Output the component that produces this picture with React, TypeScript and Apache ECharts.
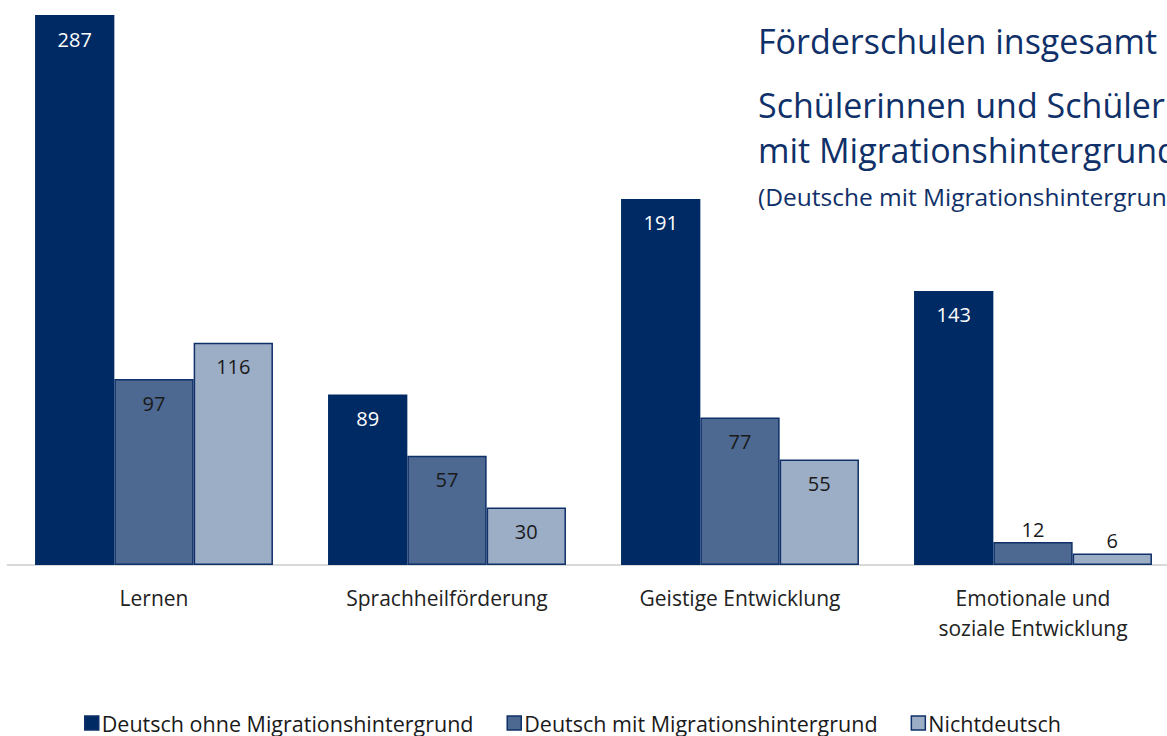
import React, { useEffect, useRef } from "react";
import * as echarts from "echarts";

const categories = ["Lernen", "Sprachheilförderung", "Geistige Entwicklung", "Emotionale und\nsoziale Entwicklung"];
const seriesNames = ["Deutsch ohne Migrationshintergrund", "Deutsch mit Migrationshintergrund", "Nichtdeutsch"];
const ohneMig = [287, 89, 191, 143];
const mitMig = [97, 57, 77, 12];
const nichtdeutsch = [116, 30, 55, 6];
const titleLine1 = "Förderschulen insgesamt";
const titleLine2 = "Schülerinnen und Schüler";
const titleLine3 = "mit Migrationshintergrund";
const titleLine4 = "(Deutsche mit Migrationshintergrund";

const FONT = "'Open Sans', 'Noto Sans', sans-serif";
const colors = ["#002a64", "#4d6891", "#9cadc6"];
const labelColors = ["#ffffff", "#1a1a1a", "#1a1a1a"];

export default function App() {
  const ref = useRef<HTMLDivElement>(null);
  useEffect(() => {
    if (!ref.current) return;
    const chart = echarts.init(ref.current, null, { renderer: "svg" });
    const dataSets = [ohneMig, mitMig, nichtdeutsch];
    const series = dataSets.map((arr, i) => ({
      name: seriesNames[i],
      type: "bar",
      barGap: "0%",
      barCategoryGap: "18.8%",
      itemStyle: { color: colors[i], borderColor: "#0f3068", borderWidth: i === 0 ? 0 : 1.5 },
      data: arr.map((v) => {
        const small = v < 20;
        return {
          value: v,
          label: small
            ? { position: "top", distance: 3, color: "#1a1a1a" }
            : undefined,
        };
      }),
      label: {
        show: true,
        position: "insideTop",
        distance: 14,
        color: labelColors[i],
        fontFamily: FONT,
        fontSize: 20,
      },
    }));
    chart.setOption({
      animation: false,
      grid: { left: 7.5, right: 0.5, top: 15, bottom: 171, containLabel: false },
      xAxis: {
        type: "category",
        data: categories,
        axisLine: { show: true, lineStyle: { color: "#d9d9d9", width: 2 } },
        axisTick: { show: false },
        axisLabel: { fontFamily: FONT, fontSize: 21, color: "#222", margin: 18, lineHeight: 30, interval: 0 },
      },
      yAxis: { type: "value", min: 0, max: 287, show: false, splitLine: { show: false } },
      legend: {
        bottom: -3,
        left: 79,
        itemWidth: 14,
        itemHeight: 14,
        itemGap: 33,
        icon: "rect",
        textStyle: { fontFamily: FONT, fontSize: 21.5, color: "#1a1a1a", padding: [0, 0, 0, -2] },
        data: seriesNames.map((n, i) => ({ name: n, itemStyle: { color: colors[i], borderColor: "#0f3068", borderWidth: 1.5 } })),
      },
      graphic: [
        { type: "text", left: 758, top: 24, style: { text: titleLine1, font: `34px ${FONT}`, fill: "#0f3068" } },
        { type: "text", left: 758, top: 88, style: { text: titleLine2, font: `34px ${FONT}`, fill: "#0f3068" } },
        { type: "text", left: 758, top: 133, style: { text: titleLine3, font: `34px ${FONT}`, fill: "#0f3068" } },
        { type: "text", left: 758, top: 184, style: { text: titleLine4, font: `24.5px ${FONT}`, fill: "#0f3068" } },
      ],
      series,
    });
    return () => chart.dispose();
  }, []);
  return (
    <div style={{ position: "absolute", left: 0, top: 0, width: 1167, height: 736, overflow: "hidden" }}>
      <div ref={ref} style={{ width: 1180, height: 736 }} />
    </div>
  );
}
